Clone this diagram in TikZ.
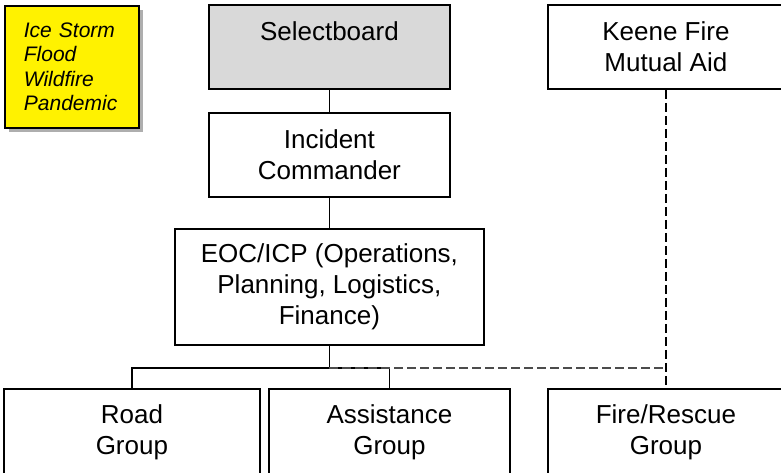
\documentclass[tikz,border=0pt]{standalone}
\usepackage{fontspec}
\setmainfont{Liberation Sans}
\usetikzlibrary{shadows}
\begin{document}
\begin{tikzpicture}[x=1pt,y=-1pt,
  box/.style={draw=black, line width=1.8pt, fill=white, align=center, inner sep=0pt,
    font=\fontsize{26}{31}\selectfont},
  conn/.style={line width=1.8pt},
  dconn/.style={line width=1.8pt, dash pattern=on 9pt off 4pt},
  note/.style={draw=black, line width=1.8pt, fill=yellow, align=left, inner xsep=19pt, inner ysep=0pt,
    text width=96pt, minimum height=122pt, font=\fontsize{21}{24.5}\selectfont\itshape,
    drop shadow={shadow xshift=4pt, shadow yshift=-4pt, opacity=0.45, fill=black!70}}]
\useasboundingbox (0,0) rectangle (781,472);
\node[note, anchor=north west] (haz) at (4,5) {Ice Storm\\Flood\\Wildfire\\Pandemic};
\node[box, fill=black!15, minimum width=241pt, minimum height=84pt, anchor=north west] (sel) at (208,4) {Selectboard\\\mbox{}};
\node[box, minimum width=241pt, minimum height=84pt, anchor=north west] (ic) at (208,112) {Incident\\Commander};
\node[box, minimum width=309pt, minimum height=116pt, anchor=north west] (eoc) at (174,228) {EOC/ICP (Operations,\\Planning, Logistics,\\Finance)};
\node[box, minimum width=236pt, minimum height=84pt, anchor=north west] (keene) at (547,4) {Keene Fire\\Mutual Aid};
\node[box, minimum width=256pt, minimum height=86pt, anchor=north west] (road) at (3,388) {Road\\Group};
\node[box, minimum width=241pt, minimum height=86pt, anchor=north west] (assist) at (268,388) {Assistance\\Group};
\node[box, minimum width=236pt, minimum height=86pt, anchor=north west] (fire) at (547,388) {Fire/Rescue\\Group};
\coordinate (bus) at ([yshift=-22pt]eoc.south);
\draw[conn] (sel) -- (ic);
\draw[conn] (ic) -- (eoc);
\draw[conn] (eoc.south) -- (bus);
\draw[conn] (road.north) |- (bus) -| (assist.north);
\draw[dconn, draw=black!70] (bus) -- (keene.south |- bus);
\draw[dconn] (keene.south) -- (fire.north);
\end{tikzpicture}
\end{document}
